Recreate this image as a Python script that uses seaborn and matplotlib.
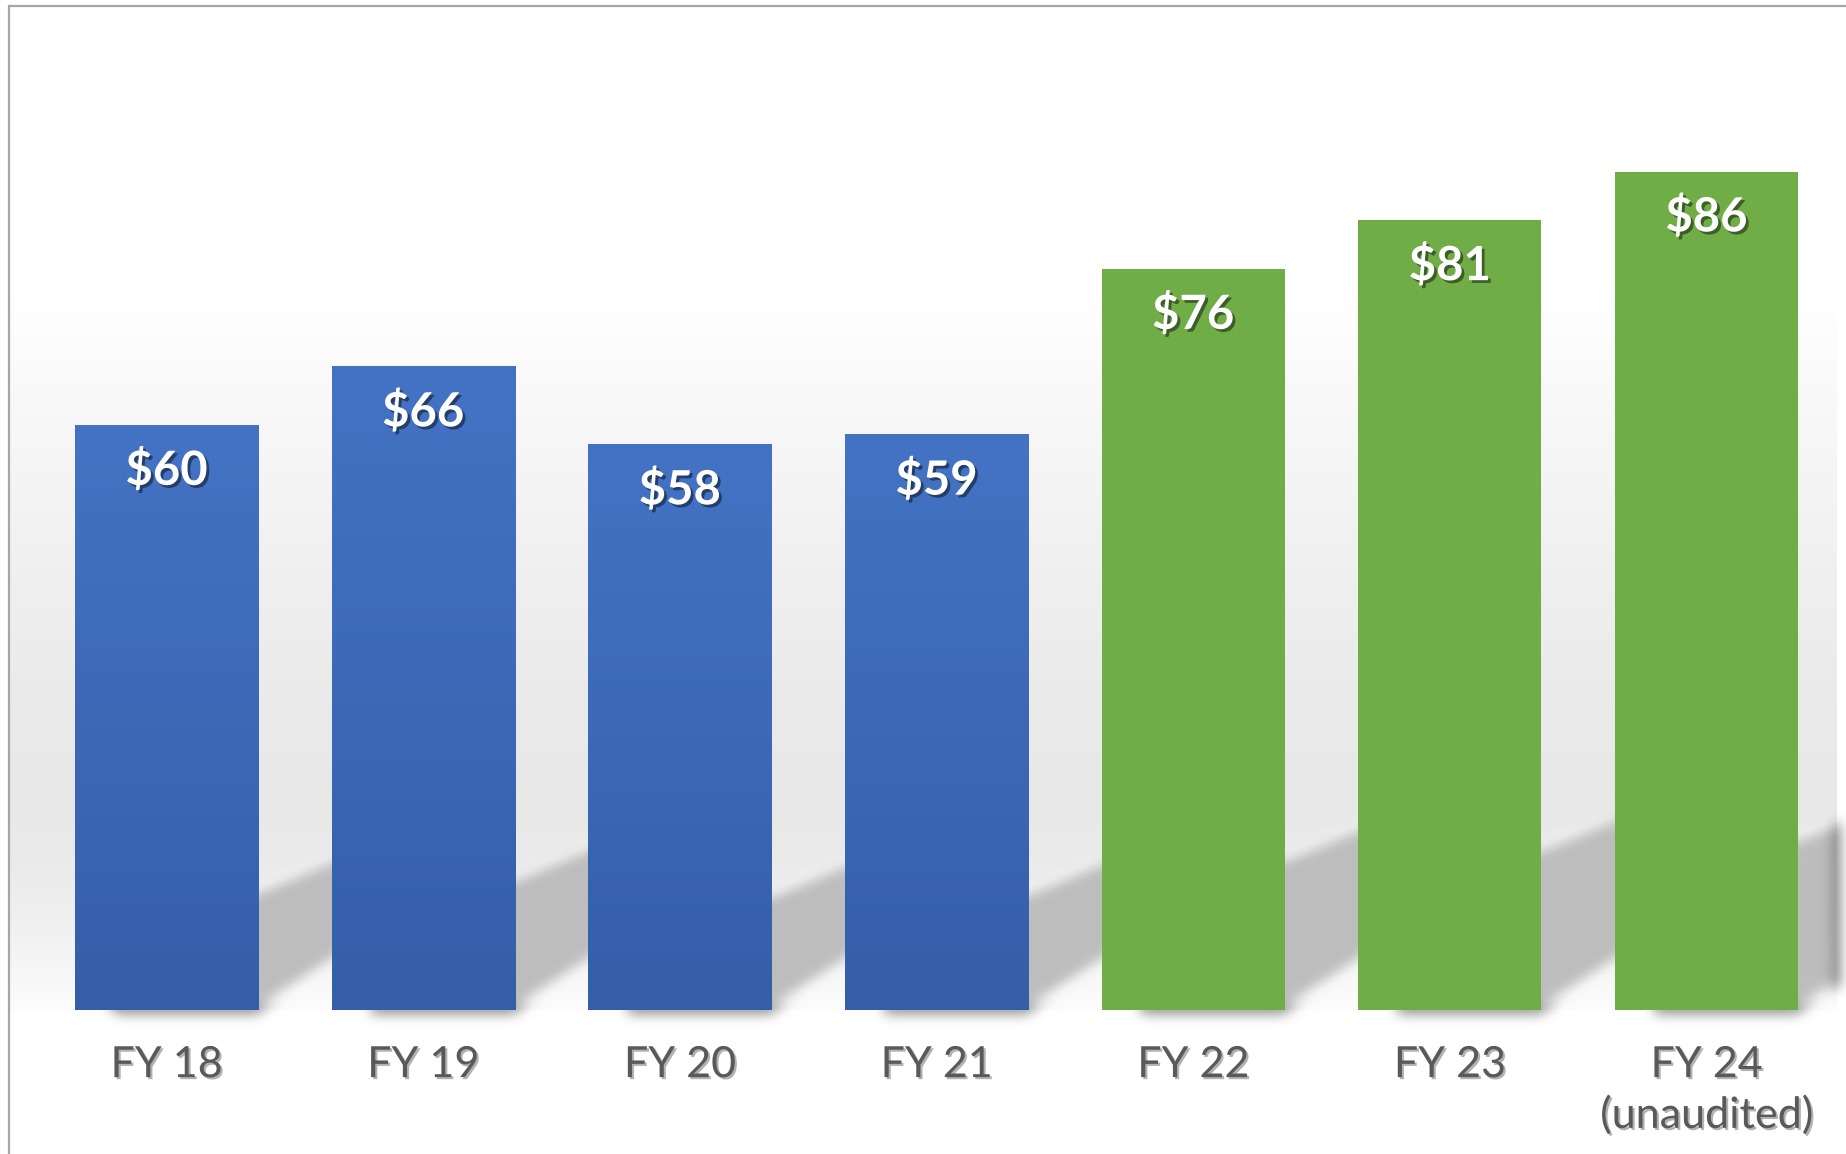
import numpy as np
import pandas as pd
import matplotlib
matplotlib.use("Agg")
import matplotlib.pyplot as plt
import seaborn as sns
import matplotlib.patheffects as pe
from matplotlib.collections import PolyCollection
from matplotlib.lines import Line2D
from matplotlib.colors import to_rgb

# ---------------- data ----------------
categories = ["FY 18", "FY 19", "FY 20", "FY 21", "FY 22", "FY 23", "FY 24\n(unaudited)"]
values = [60, 66, 58, 59, 76, 81, 86]
groups = ["FY18-FY21", "FY18-FY21", "FY18-FY21", "FY18-FY21",
          "FY22-FY24", "FY22-FY24", "FY22-FY24"]
value_labels = ["$60", "$66", "$58", "$59", "$76", "$81", "$86"]

palette = {"FY18-FY21": "#4472C4", "FY22-FY24": "#70AD47"}
blue_top, blue_bottom = "#4473C5", "#355EA8"

df = pd.DataFrame({"category": categories, "value": values, "group": groups})

# ---------------- style ----------------
sns.set_style("white")
plt.rcParams["font.family"] = ["Lato", "DejaVu Sans"]

W, H = 1846, 1154
fig = plt.figure(figsize=(W / 100, H / 100), dpi=100, facecolor="white")
ax_l, ax_r, ax_t, ax_b = 8, 1837, 6, 1010
ax = fig.add_axes([ax_l / W, (H - ax_b) / H, (ax_r - ax_l) / W, (ax_b - ax_t) / H])
ax.set_facecolor("none")

centre0, step = 166.5, 256.67
xlo = (ax_l - centre0) / step
xhi = (ax_r - centre0) / step
ytop = 103.0

# background gradient (white top -> light grey -> lighter near baseline)
px_stops = np.array([6, 300, 400, 500, 600, 700, 800, 860, 920, 970, 1010])
lv_stops = np.array([1.0, 1.0, 0.975, 0.955, 0.935, 0.918, 0.91, 0.918, 0.94, 0.965, 0.99])
rows = np.linspace(ax_t, ax_b, 400)
lv = np.interp(rows, px_stops, lv_stops)
bg = np.repeat(lv[:, None, None], 3, axis=2)
ax.imshow(bg, extent=[xlo, xhi, 0, ytop], aspect="auto", origin="upper",
          interpolation="bilinear", zorder=0)

# ---------------- bars ----------------
sns.barplot(data=df, x="category", y="value", hue="group", palette=palette,
            dodge=False, width=0.713, legend=False, saturation=1,
            edgecolor="none", linewidth=0, zorder=3, ax=ax)

# blue bars vertical gradient
c_top, c_bot = np.array(to_rgb(blue_top)), np.array(to_rgb(blue_bottom))
grad = np.linspace(0, 1, 256)[:, None]
gimg = (c_top[None, :] * (1 - grad) + c_bot[None, :] * grad)[:, None, :]
for patch in ax.containers[0]:
    x0, w, h = patch.get_x(), patch.get_width(), patch.get_height()
    ax.imshow(gimg, extent=[x0, x0 + w, 0, h], aspect="auto", origin="upper",
              interpolation="bilinear", zorder=3.5)

# soft perspective shadows behind the bars
def blur_filter(sigma_px):
    def _f(im, dpi):
        pad = int(3 * sigma_px)
        a = np.pad(im, [(pad, pad), (pad, pad), (0, 0)], mode="constant")
        r = np.arange(-pad, pad + 1)
        k = np.exp(-0.5 * (r / sigma_px) ** 2)
        k /= k.sum()
        out = np.zeros_like(a)
        for j, kj in zip(r, k):
            out += kj * np.roll(a, j, axis=0)
        out2 = np.zeros_like(out)
        for j, kj in zip(r, k):
            out2 += kj * np.roll(out, j, axis=1)
        return out2, -pad, -pad
    return _f

polys = []
for patch in ax.patches:
    x0 = patch.get_x() + 0.15
    x1 = patch.get_x() + patch.get_width()
    v = patch.get_height()
    t = 0.205 * v
    L, m, mu = 0.42, 17.0, 11.0
    polys.append([(x0, 0), (x1, 0), (x1 + L, m * L), (x1 + L, t + mu * L),
                  (x1, t), (x0, t)])
shadows = PolyCollection(polys, facecolors="#bdbdbd", edgecolors="none", zorder=1)
shadows.set_agg_filter(blur_filter(5))
ax.add_collection(shadows)

# value labels
for i, lab in enumerate(value_labels):
    ax.annotate(lab, xy=(i, values[i]), xytext=(0, -43), textcoords="offset points",
                ha="center", va="baseline", color="white", fontsize=34,
                fontweight="bold", zorder=6,
                path_effects=[pe.withSimplePatchShadow(offset=(2, -2),
                                                       shadow_rgbFace="black",
                                                       alpha=0.45)])

# ---------------- axes ----------------
ax.set_xlim(xlo, xhi)
ax.set_ylim(0, ytop)
ax.set_yticks([])
ax.set_xlabel("")
ax.set_ylabel("")
for s in ax.spines.values():
    s.set_visible(False)
ax.tick_params(axis="x", length=0, pad=26, labelsize=31, labelcolor="#595959")
for lbl in ax.get_xticklabels():
    lbl.set_linespacing(1.35)
    lbl.set_path_effects([pe.withSimplePatchShadow(offset=(1.5, -1.5),
                                                   shadow_rgbFace="black", alpha=0.3)])

# frame lines (left and top)
fig.add_artist(Line2D([8.5 / W, 8.5 / W], [0, (H - 6) / H], color="#a6a6a6",
                      lw=1.6, transform=fig.transFigure))
fig.add_artist(Line2D([8.5 / W, 1], [(H - 6) / H, (H - 6) / H], color="#a6a6a6",
                      lw=1.6, transform=fig.transFigure))

fig.savefig("out.png", dpi=100, facecolor="white")
